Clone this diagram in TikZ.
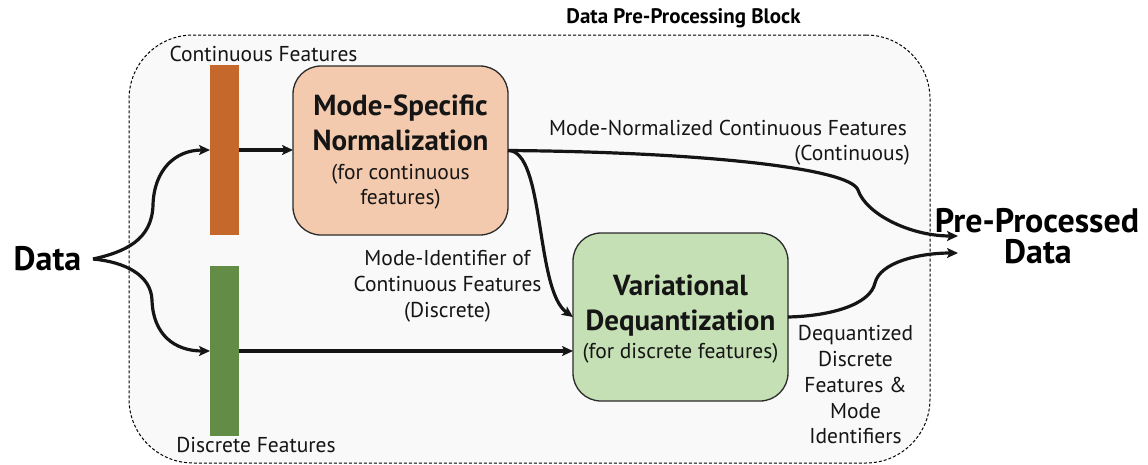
\documentclass[tikz,border=0pt]{standalone}
\usepackage{fontspec}
\setmainfont{PT Sans}
\usetikzlibrary{arrows.meta}

\definecolor{barorange}{HTML}{C4692B}
\definecolor{bargreen}{HTML}{638C46}
\definecolor{normfill}{HTML}{F4CAAE}
\definecolor{dequfill}{HTML}{C6E0B5}
\definecolor{blockfill}{HTML}{F9F9F9}
\definecolor{edgegray}{HTML}{2B2B2B}
\definecolor{inkblack}{HTML}{151515}

\tikzset{
  flow/.style={line width=3.2pt, draw=inkblack, -{Stealth[length=11pt,width=10pt,inset=2.5pt]}},
  featbar/.style={draw=none, minimum width=29pt, minimum height=170pt, inner sep=0pt, outer sep=0pt},
  procbox/.style={draw=edgegray, line width=1.3pt, rounded corners=28pt, minimum width=215pt,
                  minimum height=169pt, inner sep=0pt, outer sep=0pt},
  lbl/.style={font=\fontsize{21.5}{24}\selectfont, text=inkblack, inner sep=0pt, anchor=base},
  boxtitle/.style={font=\bfseries\fontsize{29}{32}\selectfont, text=inkblack, inner sep=0pt, anchor=base},
  bigtext/.style={font=\bfseries\fontsize{34}{38}\selectfont, text=black, inner sep=0pt, anchor=base},
  blocktitle/.style={font=\bfseries\fontsize{21}{24}\selectfont, text=black, inner sep=0pt, anchor=base},
}

\begin{document}
\begin{tikzpicture}[x=1pt,y=-1pt]
\useasboundingbox (0,0) rectangle (1148,464);

% pre-processing block
\node[draw=black, dash pattern=on 3pt off 2pt, line width=1pt, fill=blockfill,
      rounded corners=64pt, minimum width=801pt, minimum height=428pt,
      inner sep=0pt, outer sep=0pt] (block) at (529.5,249) {};
\node[blocktitle] (blocktitle) at (683.5,23) {Data Pre-Processing Block};

% feature bars
\node[featbar, fill=barorange] (cont) at (224.5,150) {};
\node[featbar, fill=bargreen]  (disc) at (224.5,351) {};
\node[lbl] (contlbl) at (263.5,61)  {Continuous Features};
\node[lbl] (disclbl) at (256,452) {Discrete Features};

% processing boxes
\node[procbox, fill=normfill] (norm) at (400.5,150.5) {};
\node[boxtitle] (norm1) at (400.5,115) {Mode-Specific};
\node[boxtitle] (norm2) at (400.5,150) {Normalization};
\node[lbl] (norm3) at (400.5,179) {(for continuous};
\node[lbl] (norm4) at (400.5,204) {features)};

\node[procbox, fill=dequfill, minimum height=168pt] (dequ) at (680.5,317) {};
\node[boxtitle] (dequ1) at (680.5,295) {Variational};
\node[boxtitle] (dequ2) at (680.5,330) {Dequantization};
\node[lbl] (dequ3) at (680.5,358) {(for discrete features)};

% input and output
\node[bigtext] (data) at (47.5,270) {Data};
\coordinate (split) at (93,259);
\node[bigtext] (out1) at (1037,232) {Pre-Processed};
\node[bigtext] (out2) at (1038,263) {Data};
\coordinate (in1) at (958,236);
\coordinate (in2) at (958,253);

% edge labels
\node[lbl, anchor=base east] (mn1) at (907,135) {Mode-Normalized Continuous Features};
\node[lbl, anchor=base east] (mn2) at (910,160) {(Continuous)};
\node[lbl] (mi1) at (447.5,265) {Mode-Identifier of};
\node[lbl] (mi2) at (447.5,291) {Continuous Features};
\node[lbl] (mi3) at (447.5,317) {(Discrete)};
\node[lbl] (dq1) at (855.5,340) {Dequantized};
\node[lbl] (dq2) at (855.5,366) {Discrete};
\node[lbl] (dq3) at (855.5,392) {Features \&};
\node[lbl] (dq4) at (855.5,418) {Mode};
\node[lbl] (dq5) at (855.5,443) {Identifiers};

% connectors
\draw[flow] (split) .. controls (125,252) and (152,240) .. (153,205)
                    .. controls (154,170) and (175,150) .. (cont.west);
\draw[flow] (split) .. controls (125,262) and (151,275) .. (152,300)
                    .. controls (153,335) and (175,351) .. (disc.west);
\draw[flow] (cont.east) -- (cont.east -| norm.west);
\draw[flow] (disc.east) -- (disc.east -| dequ.west);
\draw[flow] (norm.east) .. controls (545,150) and (535,290) .. (dequ.west);
\draw[flow] (norm.east) .. controls (700,152) and (850,168) .. (858,190)
                        .. controls (866,214) and (910,236) .. (in1);
\draw[flow] (dequ.east) .. controls (830,316) and (870,305) .. (875,283)
                        .. controls (880,262) and (920,253) .. (in2);
\end{tikzpicture}
\end{document}
